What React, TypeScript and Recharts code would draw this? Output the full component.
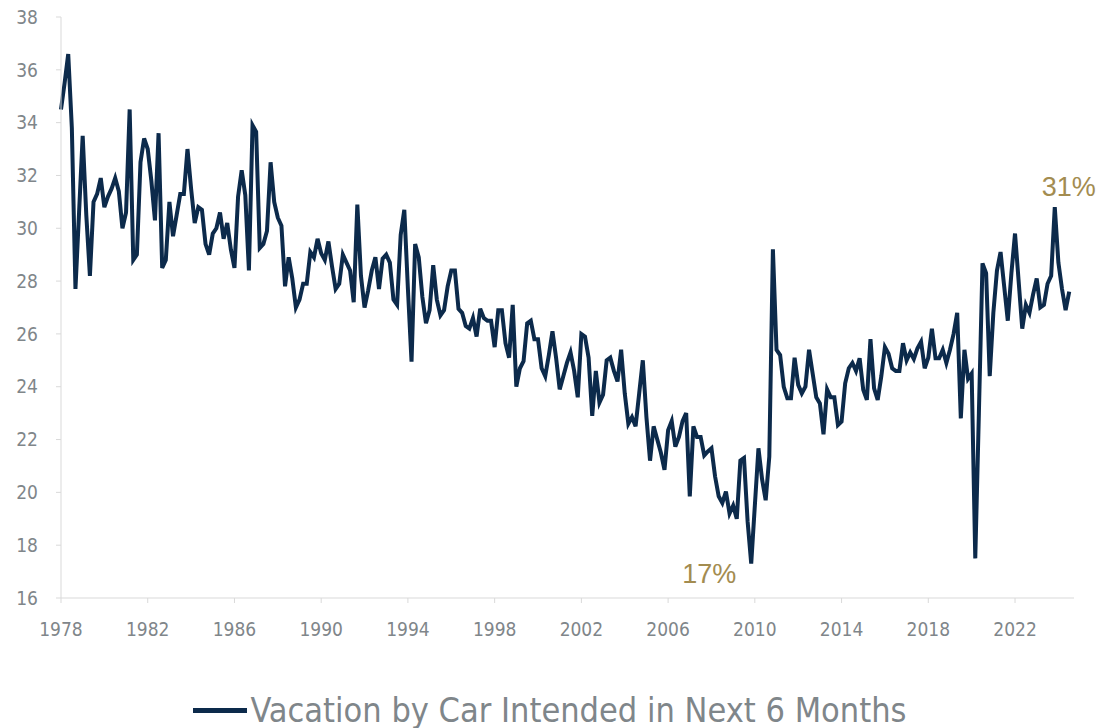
import { Legend, Line, LineChart, ReferenceDot, XAxis, YAxis } from "recharts"

// Vacation by car intended in next 6 months (%), bimonthly readings, Jan 1978 onwards
const values1978to1984 = [
  34.5, 35.5, 36.6, 33.8, 27.7, 30.6,
  33.5, 30.5, 28.2, 31.0, 31.3, 31.9,
  30.8, 31.2, 31.5, 31.9, 31.4, 30.0,
  30.6, 34.5, 28.8, 29.0, 32.5, 33.4,
  33.0, 31.8, 30.3, 33.6, 28.5, 28.8,
  31.0, 29.7, 30.5, 31.3, 31.3, 33.0,
  31.5, 30.2, 30.8, 30.7, 29.4, 29.0,
]
const values1985to1994 = [
  29.8, 30.0, 30.6, 29.6, 30.2, 29.2,
  28.5, 31.2, 32.2, 31.25, 28.4, 33.9,
  33.65, 29.25, 29.4, 29.9, 32.5, 31.0,
  30.4, 30.1, 27.8, 28.9, 28.1, 27.0,
  27.3, 27.9, 27.9, 29.1, 28.9, 29.6,
  29.05, 28.8, 29.5, 28.55, 27.7, 27.9,
  29.0, 28.7, 28.4, 27.2, 30.9, 28.2,
  27.0, 27.65, 28.4, 28.9, 27.7, 28.85,
  29.0, 28.7, 27.3, 27.1, 29.75, 30.7,
  27.7, 24.95, 29.4, 28.9, 27.4, 26.4,
]
const values1995to2004 = [
  26.9, 28.6, 27.3, 26.7, 26.9, 27.8,
  28.4, 28.4, 26.95, 26.8, 26.3, 26.2,
  26.6, 25.9, 26.95, 26.6, 26.5, 26.5,
  25.5, 26.9, 26.9, 25.65, 25.1, 27.1,
  24.0, 24.7, 24.97, 26.4, 26.5, 25.8,
  25.8, 24.7, 24.4, 25.2, 26.1, 25.1,
  23.9, 24.4, 24.9, 25.3, 24.6, 23.6,
  26.0, 25.9, 25.1, 22.9, 24.6, 23.4,
  23.7, 25.0, 25.1, 24.6, 24.2, 25.4,
  23.75, 22.6, 22.85, 22.5, 23.75, 25.0,
]
const values2005to2014 = [
  22.85, 21.2, 22.5, 22.0, 21.5, 20.85,
  22.35, 22.7, 21.73, 22.1, 22.7, 23.0,
  19.85, 22.5, 22.1, 22.1, 21.4, 21.55,
  21.67, 20.6, 19.85, 19.6, 20.03, 19.2,
  19.5, 19.0, 21.2, 21.3, 18.9, 17.3,
  19.5, 21.67, 20.5, 19.7, 21.35, 29.2,
  25.4, 25.2, 24.0, 23.56, 23.56, 25.1,
  24.07, 23.75, 24.0, 25.4, 24.5, 23.6,
  23.37, 22.2, 23.9, 23.6, 23.6, 22.55,
  22.68, 24.13, 24.7, 24.9, 24.6, 25.08,
]
const values2015to2024 = [
  23.88, 23.5, 25.8, 23.94, 23.5, 24.4,
  25.5, 25.25, 24.7, 24.6, 24.6, 25.65,
  25.0, 25.3, 25.05, 25.45, 25.7, 24.7,
  25.1, 26.2, 25.08, 25.08, 25.4, 24.9,
  25.4, 26.0, 26.8, 22.8, 25.4, 24.3,
  24.5, 17.5, 23.0, 28.67, 28.3, 24.4,
  26.8, 28.4, 29.1, 27.8, 26.5, 28.3,
  29.8, 28.0, 26.2, 27.1, 26.8, 27.5,
  28.1, 27.0, 27.1, 27.9, 28.2, 30.8,
  28.7, 27.7, 26.9, 27.6,
]

const xTicks = [1978, 1982, 1986, 1990, 1994, 1998, 2002, 2006, 2010, 2014, 2018, 2022]
const yTicks = [16, 18, 20, 22, 24, 26, 28, 30, 32, 34, 36, 38]

const highPoint = { t: 1978 + 275 / 6, value: 30.8, label: "31%" }
const lowPoint = { t: 1978 + 191 / 6, value: 17.3, label: "17%" }

const allValues = [
  ...values1978to1984,
  ...values1985to1994,
  ...values1995to2004,
  ...values2005to2014,
  ...values2015to2024,
]
const data = allValues.map((value, i) => ({ t: 1978 + i / 6, value }))

const NAVY = "#0c2a4b"
const GOLD = "#a38c50"
const GREY = "#7f868a"
const AXIS = "#d9d9d9"
const FONT = "'Liberation Sans Narrow', 'DejaVu Sans Condensed', Roboto, sans-serif"

function renderLegend() {
  return (
    <div
      style={{
        display: "flex",
        justifyContent: "center",
        alignItems: "center",
        fontFamily: FONT,
        fontSize: 34,
        color: GREY,
      }}
    >
      <span style={{ display: "inline-block", width: 54, height: 5, background: NAVY, marginRight: 4 }} />
      <span>Vacation by Car Intended in Next 6 Months</span>
    </div>
  )
}

export default function App() {
  return (
    <div style={{ position: "absolute", left: 0, top: 0, width: 1099, height: 728, background: "#fff" }}>
      <LineChart width={1099} height={728} data={data} margin={{ top: 17, right: 25, left: 0, bottom: 50 }}>
        <XAxis
          dataKey="t"
          type="number"
          domain={[1978, 2024.72]}
          ticks={xTicks}
          stroke={AXIS}
          tickSize={5}
          tickMargin={20}
          height={40}
          tick={{ fill: GREY, fontSize: 19, fontFamily: FONT }}
        />
        <YAxis
          type="number"
          domain={[16, 38]}
          ticks={yTicks}
          width={61}
          stroke={AXIS}
          tickSize={5}
          tickMargin={18}
          tick={{ fill: GREY, fontSize: 19, fontFamily: FONT }}
        />
        <Line
          type="linear"
          dataKey="value"
          stroke={NAVY}
          strokeWidth={4}
          dot={false}
          isAnimationActive={false}
        />
        <ReferenceDot
          x={highPoint.t}
          y={highPoint.value}
          r={0}
          shape={(p: any) => (
            <text x={p.cx + 14} y={p.cy - 11} textAnchor="middle" fill={GOLD} fontSize={27} fontFamily="'Liberation Sans', Arial, sans-serif">
              {highPoint.label}
            </text>
          )}
        />
        <ReferenceDot
          x={lowPoint.t}
          y={lowPoint.value}
          r={0}
          shape={(p: any) => (
            <text x={p.cx - 42} y={p.cy + 19} textAnchor="middle" fill={GOLD} fontSize={27} fontFamily="'Liberation Sans', Arial, sans-serif">
              {lowPoint.label}
            </text>
          )}
        />
        <Legend content={renderLegend} wrapperStyle={{ top: 690, left: 0, width: 1099 }} />
      </LineChart>
    </div>
  )
}
